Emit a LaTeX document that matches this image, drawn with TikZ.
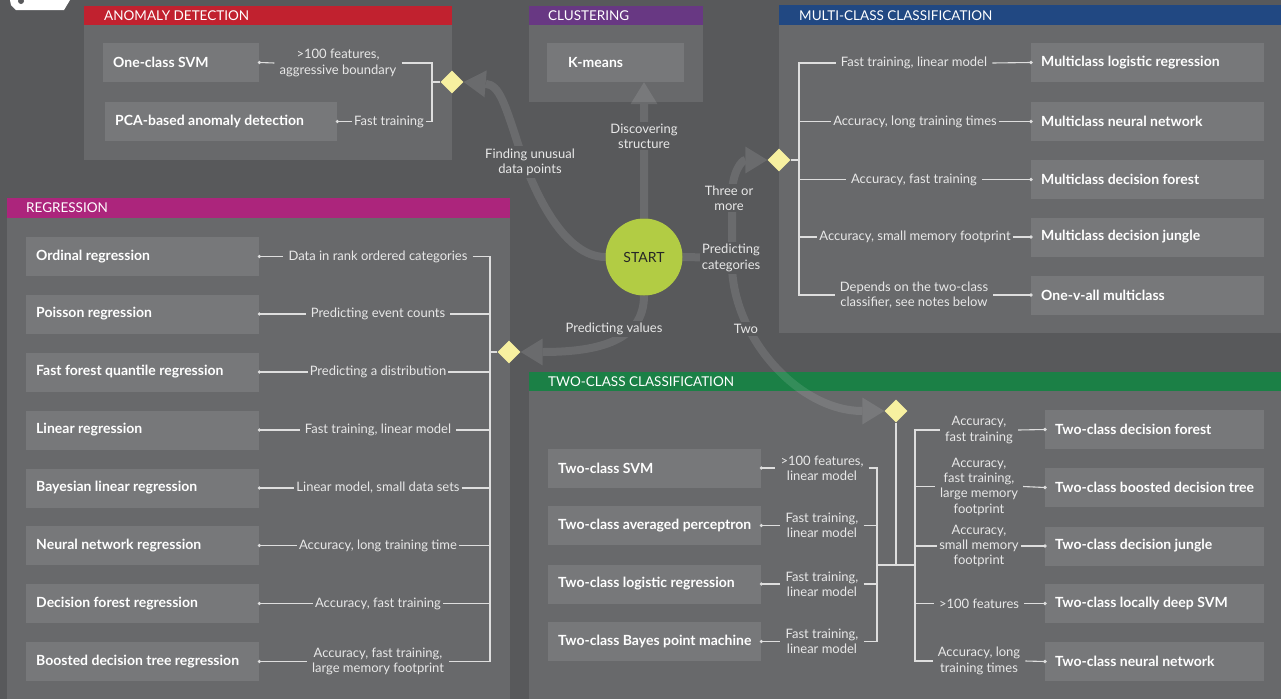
\documentclass[tikz,border=0pt]{standalone}
\usepackage{fontspec}
\setmainfont{Lato}
\usetikzlibrary{shapes.geometric,arrows.meta}
\pgfdeclarelayer{front}
\pgfsetlayers{main,front}
\definecolor{bgc}{RGB}{88,89,91}
\definecolor{panelc}{RGB}{104,105,107}
\definecolor{boxc}{RGB}{119,120,122}
\definecolor{linec}{RGB}{222,222,222}
\definecolor{lblc}{RGB}{232,232,232}
\definecolor{diamc}{RGB}{247,240,160}
\definecolor{startc}{RGB}{178,204,68}
\definecolor{redh}{RGB}{193,33,47}
\definecolor{purh}{RGB}{104,56,131}
\definecolor{blueh}{RGB}{33,72,130}
\definecolor{magh}{RGB}{172,37,124}
\definecolor{greenh}{RGB}{27,128,70}
\tikzset{
  hdrtxt/.style={anchor=west, text=white, inner sep=0pt, font=\fontsize{13.5}{15}\selectfont},
  algbox/.style={fill=boxc, anchor=west, minimum height=39pt, inner sep=0pt},
  algtxt/.style={anchor=west, text=white, inner sep=0pt, font=\fontsize{14}{16}\selectfont\bfseries},
  lbl/.style={text=lblc, align=center, inner xsep=5pt, inner ysep=1pt, font=\fontsize{13}{15.3}\selectfont},
  flowlbl/.style={lbl, fill=bgc, inner xsep=2pt, inner ysep=2pt},
  conn/.style={draw=linec, line width=1.1pt},
  diam/.style={diamond, fill=diamc, minimum width=23pt, minimum height=23pt, inner sep=0pt},
  flow/.style={draw=white, line width=8pt, -{Triangle[length=22pt,width=27pt,line width=0pt]}},
  flowplain/.style={draw=white, line width=8pt},
  dotc/.style={fill=linec}
}
\newcommand\algo[5]{\node[algbox, minimum width=#4pt] (#1) at (#2,#3) {};
  \node[algtxt] (#1t) at ([xshift=10pt]#1.west) {#5};}
\begin{document}
\begin{tikzpicture}[x=1pt,y=-1pt]
\useasboundingbox (0,0) rectangle (1281,699);
\fill[bgc] (0,0) rectangle (1281,699);
% top-left logo fragment
\fill[white] (10,0) -- (70,0) -- (64,10) -- (16,10) -- (11,5) -- cycle;
\fill[bgc] (21,1) circle[radius=3pt];

% ---------- panels ----------
\fill[panelc] (84,6) rectangle (452,160);
\fill[redh] (84,6) rectangle (452,25);
\node[hdrtxt] (hA) at (104,15.5) {ANOMALY DETECTION};

\fill[panelc] (529,6) rectangle (703,102);
\fill[purh] (529,6) rectangle (703,25);
\node[hdrtxt] (hC) at (548,15.5) {CLUSTERING};

\fill[panelc] (779,5) rectangle (1281,333);
\fill[blueh] (779,5) rectangle (1281,25);
\node[hdrtxt] (hM) at (799,15.5) {MULTI-CLASS CLASSIFICATION};

\fill[panelc] (7,198) rectangle (510,699);
\fill[magh] (7,198) rectangle (510,218);
\node[hdrtxt] (hR) at (26,208) {REGRESSION};

\fill[panelc] (529,372) rectangle (1281,699);
\fill[greenh] (529,372) rectangle (1281,391);
\node[hdrtxt] (hT) at (548,381.5) {TWO-CLASS CLASSIFICATION};

% ---------- anomaly detection ----------
\algo{ocsvm}{103}{62.5}{156}{One-class SVM}
\algo{pca}{105}{121.5}{232}{PCA-based anomaly detection}
\node[lbl] (a1l) at (338,63) {>100 features,\\aggressive boundary};
\node[lbl, inner xsep=2pt] (a2l) at (389,121.5) {Fast training};
\node[diam] (dA) at (452,82) {};
\coordinate (tA) at (432,0);
\draw[conn] (ocsvm.east) -- (a1l.west);
\draw[conn] (pca.east) -- (a2l.west);
\draw[conn] (a1l.east) -- (a1l.east -| tA) -- (a2l.east -| tA) -- (a2l.east);
\draw[conn] (dA.west) -- (dA.west -| tA);
\fill[dotc] (ocsvm.east) circle[radius=1.8pt];
\fill[dotc] (pca.east) circle[radius=1.8pt];

% ---------- clustering ----------
\node[algbox, minimum width=137pt] (km) at (547,62.5) {};
\node[algtxt] (kmt) at ([xshift=21pt]km.west) {K-means};

% ---------- multi-class ----------
\algo{m1}{1031}{62.5}{233}{Multiclass logistic regression}
\algo{m2}{1031}{121.5}{233}{Multiclass neural network}
\algo{m3}{1031}{179.5}{233}{Multiclass decision forest}
\algo{m4}{1031}{237}{233}{Multiclass decision jungle}
\algo{m5}{1031}{295}{233}{One-v-all multiclass}
\node[lbl] (m1l) at (914,63) {Fast training, linear model};
\node[lbl, inner xsep=2pt] (m2l) at (915,121.5) {Accuracy, long training times};
\node[lbl] (m3l) at (914,179.5) {Accuracy, fast training};
\node[lbl, inner xsep=2pt] (m4l) at (915,237) {Accuracy, small memory footprint};
\node[lbl] (m5l) at (914,295) {Depends on the two-class\\classifier, see notes below};
\node[diam] (dM) at (779,160) {};
\coordinate (tM) at (799,0);
\draw[conn] (m1l.west) -- (m1l.west -| tM) -- (m5l.west -| tM) -- (m5l.west);
\foreach \r in {2,3,4} {\draw[conn] (m\r l.west) -- (m\r l.west -| tM);}
\foreach \r in {1,...,5} {\draw[conn] (m\r l.east) -- (m\r.west); \fill[dotc] (m\r.west) circle[radius=1.8pt];}
\draw[conn] (dM.east) -- (dM.east -| tM);

% ---------- regression ----------
\algo{r1}{26}{256.5}{233}{Ordinal regression}
\algo{r2}{26}{314}{233}{Poisson regression}
\algo{r3}{26}{372}{233}{Fast forest quantile regression}
\algo{r4}{26}{430}{233}{Linear regression}
\algo{r5}{26}{488}{233}{Bayesian linear regression}
\algo{r6}{26}{545.5}{233}{Neural network regression}
\algo{r7}{26}{603.5}{233}{Decision forest regression}
\algo{r8}{26}{661.5}{233}{Boosted decision tree regression}
\node[lbl] (r1l) at (378,256.5) {Data in rank ordered categories};
\node[lbl] (r2l) at (378,314) {Predicting event counts};
\node[lbl, inner xsep=2pt] (r3l) at (378,372) {Predicting a distribution};
\node[lbl] (r4l) at (378,430) {Fast training, linear model};
\node[lbl, inner xsep=2pt] (r5l) at (378,488) {Linear model, small data sets};
\node[lbl, inner xsep=2pt] (r6l) at (378,545.5) {Accuracy, long training time};
\node[lbl, inner xsep=2pt] (r7l) at (378,603.5) {Accuracy, fast training};
\node[lbl] (r8l) at (378,661.5) {Accuracy, fast training,\\large memory footprint};
\node[diam] (dR) at (509,352) {};
\coordinate (tR) at (490,0);
\draw[conn] (r1l.east) -- (r1l.east -| tR) -- (r8l.east -| tR) -- (r8l.east);
\foreach \r in {2,...,7} {\draw[conn] (r\r l.east) -- (r\r l.east -| tR);}
\foreach \r in {1,...,8} {\draw[conn] (r\r.east) -- (r\r l.west); \fill[dotc] (r\r.east) circle[radius=1.8pt];}
\draw[conn] (dR.west) -- (dR.west -| tR);

% ---------- two-class ----------
\algo{t1}{548}{468}{213}{Two-class SVM}
\algo{t2}{548}{525.5}{213}{Two-class averaged perceptron}
\algo{t3}{548}{584}{213}{Two-class logistic regression}
\algo{t4}{548}{641.5}{213}{Two-class Bayes point machine}
\node[lbl] (t1l) at (822,468) {>100 features,\\linear model};
\node[lbl] (t2l) at (822,525.5) {Fast training,\\linear model};
\node[lbl] (t3l) at (822,584) {Fast training,\\linear model};
\node[lbl] (t4l) at (822,641.5) {Fast training,\\linear model};
\coordinate (tL) at (877,0);
\draw[conn] (t1l.east) -- (t1l.east -| tL) -- (t4l.east -| tL) -- (t4l.east);
\foreach \r in {2,3} {\draw[conn] (t\r l.east) -- (t\r l.east -| tL);}
\foreach \r in {1,...,4} {\draw[conn] (t\r.east) -- (t\r l.west); \fill[dotc] (t\r.east) circle[radius=1.8pt];}

\algo{u1}{1045}{429.5}{219}{Two-class decision forest}
\algo{u2}{1045}{487.5}{219}{Two-class boosted decision tree}
\algo{u3}{1045}{546}{219}{Two-class decision jungle}
\algo{u4}{1045}{603.5}{219}{Two-class locally deep SVM}
\algo{u5}{1045}{661.5}{219}{Two-class neural network}
\node[lbl] (u1l) at (979,430) {Accuracy,\\fast training};
\node[lbl] (u2l) at (979,486.5) {Accuracy,\\fast training,\\large memory\\footprint};
\node[lbl, inner xsep=2pt] (u3l) at (979,546) {Accuracy,\\small memory\\footprint};
\node[lbl] (u4l) at (979,603.5) {>100 features};
\node[lbl] (u5l) at (979,661) {Accuracy, long\\training times};
\coordinate (tRt) at (915,0);
\draw[conn] (u1l.west) -- (u1l.west -| tRt) -- (u5l.west -| tRt) -- (u5l.west);
\foreach \r in {2,3,4} {\draw[conn] (u\r l.west) -- (u\r l.west -| tRt);}
\foreach \r in {1,...,5} {\draw[conn] (u\r l.east) -- (u\r.west); \fill[dotc] (u\r.west) circle[radius=1.8pt];}

\node[diam] (dT) at (896,411) {};
\coordinate (jL) at (877,565);
\coordinate (jR) at (915,565);
\draw[conn] (jL) -- (jR);
\draw[conn] (dT.south) -- (dT.south |- jL);

% ---------- START and flow arrows ----------
\begin{pgfonlayer}{front}
\node[circle, fill=startc, minimum size=77pt, inner sep=0pt, text=black!85, font=\fontsize{14}{16}\selectfont] (start) at (644,257) {START};
\node[flowlbl] (fdisc) at (644,136) {Discovering\\structure};
\node[flowlbl] (ffind) at (530,162) {Finding unusual\\data points};
\node[flowlbl] (fthree) at (729,198) {Three or\\more};
\node[flowlbl] (fcat) at (731,258) {Predicting\\categories};
\node[flowlbl] (fval) at (614,329) {Predicting values};
\node[flowlbl] (ftwo) at (746,329) {Two};
\end{pgfonlayer}
\coordinate (jc) at (732,258);
\begin{scope}[transparency group, opacity=0.11]
\draw[flow] (start.north) -- (start.north |- km.south);
\draw[flow] (start.west) .. controls (565,257) and (535,195) .. (520,150) .. controls (505,105) and (500,85) .. (dA.east);
\draw[flow] (start.south) .. controls (644,340) and (600,352) .. (dR.east);
\draw[flowplain] (start.east) -- (jc);
\draw[flow] (jc) -- (732,195) .. controls (732,172) and (742,160) .. (dM.west);
\draw[flow] (jc) -- (732,268) .. controls (735,340) and (800,411) .. (dT.west);
\end{scope}
\end{tikzpicture}
\end{document}
